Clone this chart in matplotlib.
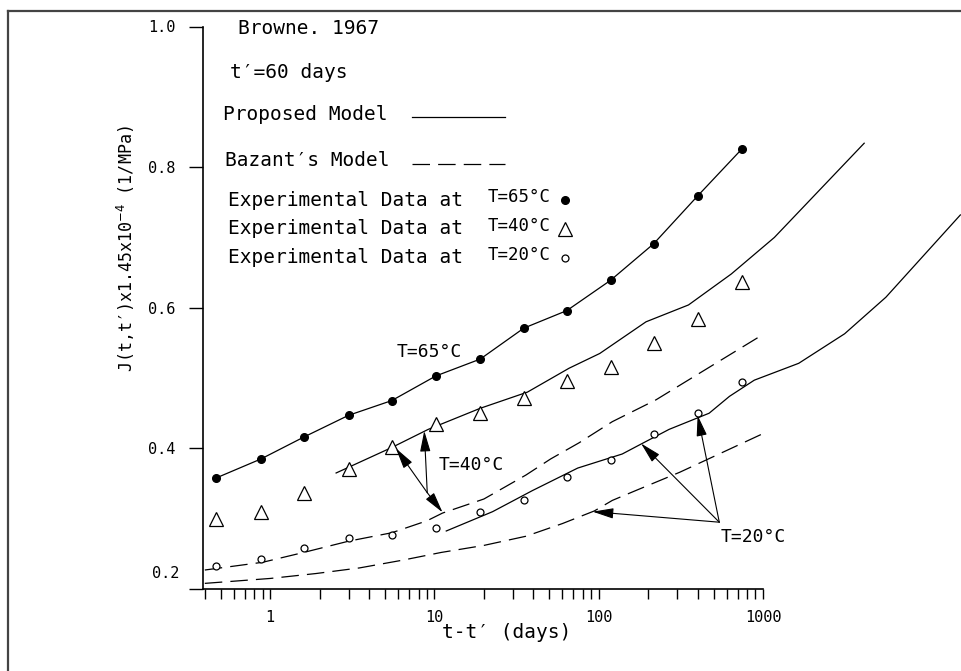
import matplotlib
matplotlib.use('Agg')
import matplotlib.pyplot as plt
from matplotlib.lines import Line2D

W, H = 961, 671

# experimental data (Browne, 1967), t' = 60 days
t_exp = [0.47, 0.88, 1.6, 3.0, 5.5, 10.2, 19, 35, 64, 118, 216, 400, 745]
j_65 = [0.358, 0.385, 0.416, 0.447, 0.468, 0.503, 0.527, 0.571, 0.596, 0.639, 0.691, 0.759, 0.826]
j_40 = [0.299, 0.309, 0.337, 0.370, 0.402, 0.435, 0.451, 0.471, 0.496, 0.516, 0.550, 0.584, 0.637]
j_20 = [0.2325, 0.243, 0.258, 0.273, 0.277, 0.287, 0.309, 0.327, 0.360, 0.383, 0.421, 0.451, 0.494]

# proposed model (solid)
t_prop_40 = [2.52, 5.47, 9.16, 19.0, 36.8, 66, 101.5, 194, 352, 641, 1173, 4130]
j_prop_40 = [0.365, 0.401, 0.427, 0.457, 0.480, 0.514, 0.535, 0.580, 0.604, 0.648, 0.700, 0.834]
t_prop_20 = [11.8, 22.6, 39.5, 74.5, 139, 184, 268, 470, 625, 885, 1650, 3140, 5600, 15900]
j_prop_20 = [0.2825, 0.310, 0.340, 0.372, 0.392, 0.407, 0.427, 0.450, 0.474, 0.497, 0.521, 0.563, 0.615, 0.732]

# Bazant's model (dashed)
t_baz_40 = [0.4, 0.9, 1.6, 3.0, 5.5, 9.0, 11.2, 20, 36, 51, 76, 121, 223, 339, 1000]
j_baz_40 = [0.227, 0.238, 0.252, 0.268, 0.280, 0.297, 0.308, 0.328, 0.362, 0.385, 0.408, 0.438, 0.469, 0.495, 0.562]
t_baz_20 = [0.4, 1.0, 1.9, 3.5, 6.4, 11, 20, 36, 60, 94, 121, 168, 311, 1000]
j_baz_20 = [0.208, 0.215, 0.222, 0.230, 0.241, 0.252, 0.262, 0.275, 0.293, 0.311, 0.326, 0.340, 0.366, 0.421]

# annotation arrows: (start, [tips])
arrows_40 = ((9.04, 0.337), [(8.67, 0.425), (5.83, 0.400), (11.2, 0.309)])
arrows_20 = ((542, 0.295), [(91.8, 0.310), (181, 0.407), (400, 0.447)])

x_major = [1, 10, 100, 1000]
x_major_labels = ['1', '10', '100', '1000']
x_minor = [0.4, 0.5, 0.6, 0.7, 0.8, 0.9, 2, 3, 4, 5, 6, 7, 8, 9,
           20, 30, 40, 50, 60, 70, 80, 90, 200, 300, 400, 500, 600, 700, 800, 900]
y_ticks = [0.2, 0.4, 0.6, 0.8, 1.0]
y_tick_labels = ['', '0.4', '0.6', '0.8', '1.0']


def px(x, y):
    return x / W, 1 - y / H


plt.rcParams['font.family'] = ['DejaVu Sans Mono', 'DejaVu Sans']

fig = plt.figure(figsize=(W / 100, H / 100), dpi=100)
ax = fig.add_axes([203 / W, 1 - 589 / H, 560 / W, 562.5 / H])
ax.set_xscale('log')
ax.set_xlim(0.39, 1000)
ax.set_ylim(0.2, 1.0)

for s in ['top', 'right']:
    ax.spines[s].set_visible(False)
for s in ['left', 'bottom']:
    ax.spines[s].set_linewidth(1.2)

ax.set_xticks(x_major)
ax.set_xticklabels(x_major_labels)
ax.set_xticks(x_minor, minor=True)
ax.set_xticklabels([], minor=True)
ax.tick_params(axis='x', which='both', direction='out', length=7, width=1, labelsize=11, pad=8)
ax.set_yticks(y_ticks)
ax.set_yticklabels(y_tick_labels)
ax.tick_params(axis='y', which='both', direction='out', length=10, width=1, labelsize=11, pad=10)
ax.minorticks_on()
ax.yaxis.set_minor_locator(matplotlib.ticker.NullLocator())
ax.xaxis.set_minor_locator(matplotlib.ticker.FixedLocator(x_minor))

dash = (0, (14, 6.5))
lw = 0.9

# model curves (the long solid curves continue past the axes)
ax.plot(t_exp, j_65, color='black', lw=lw, marker='o', ms=5.5, clip_on=False)
ax.plot(t_prop_40, j_prop_40, color='black', lw=lw, clip_on=False)
ax.plot(t_prop_20, j_prop_20, color='black', lw=lw, clip_on=False)
ax.plot(t_baz_40, j_baz_40, color='black', lw=lw, ls=dash)
ax.plot(t_baz_20, j_baz_20, color='black', lw=lw, ls=dash)

# experimental points
ax.plot(t_exp, j_40, ls='none', marker='^', ms=9.5, mfc='white', mec='black', mew=0.9)
ax.plot(t_exp, j_20, ls='none', marker='o', ms=5, mfc='white', mec='black', mew=0.9)

aprops = dict(arrowstyle='-|>,head_length=0.8,head_width=0.2', mutation_scale=16,
              color='black', lw=0.8, shrinkA=0, shrinkB=0)
for base, tips in [arrows_40, arrows_20]:
    for tip in tips:
        ax.annotate('', xy=tip, xytext=base, arrowprops=aprops)

# texts inside the plot
fig.text(*px(397, 352), 'T=65°C', fontsize=13, va='center', ha='left')
fig.text(*px(439, 465), 'T=40°C', fontsize=13, va='center', ha='left')
fig.text(*px(721, 537), 'T=20°C', fontsize=13, va='center', ha='left')

# axis labels
fig.text(*px(179, 574), '0.2', fontsize=11, va='center', ha='right')
fig.text(*px(507, 633), "t-t′ (days)", fontsize=14, va='center', ha='center')
fig.text(*px(126, 249), "J(t,t′)x1.45x10$^{-4}$ (1/MPa)", fontsize=12,
         rotation=90, va='center', ha='center')

# legend block
fig.text(*px(238, 29), 'Browne. 1967', fontsize=14, va='center')
fig.text(*px(230, 72), "t′=60 days", fontsize=14, va='center')
fig.text(*px(223, 114), 'Proposed Model', fontsize=14, va='center')
fig.add_artist(Line2D([412 / W, 505 / W], [1 - 117 / H] * 2, color='black', lw=lw))
fig.text(*px(225, 160), "Bazant′s Model", fontsize=14, va='center')
fig.add_artist(Line2D([412 / W, 505 / W], [1 - 164 / H] * 2, color='black', lw=lw, ls=dash))

rows = [(200, 'T=65°C', dict(marker='o', ms=5.5, mfc='black', mec='black')),
        (229, 'T=40°C', dict(marker='^', ms=9.5, mfc='white', mec='black', mew=0.9)),
        (258, 'T=20°C', dict(marker='o', ms=5, mfc='white', mec='black', mew=0.9))]
for y, lab, mk in rows:
    fig.text(*px(228, y), 'Experimental Data at', fontsize=14, va='center')
    fig.text(*px(488, y - 3), lab, fontsize=12.5, va='center')
    fig.add_artist(Line2D([565 / W], [1 - y / H], ls='none', **mk))

# outer frame (top and left only)
fig.add_artist(Line2D([8 / W, 1], [1 - 11 / H] * 2, color='#444444', lw=1.6))
fig.add_artist(Line2D([8 / W] * 2, [0, 1 - 11 / H], color='#444444', lw=1.6))

fig.savefig('out.png', dpi=100)
